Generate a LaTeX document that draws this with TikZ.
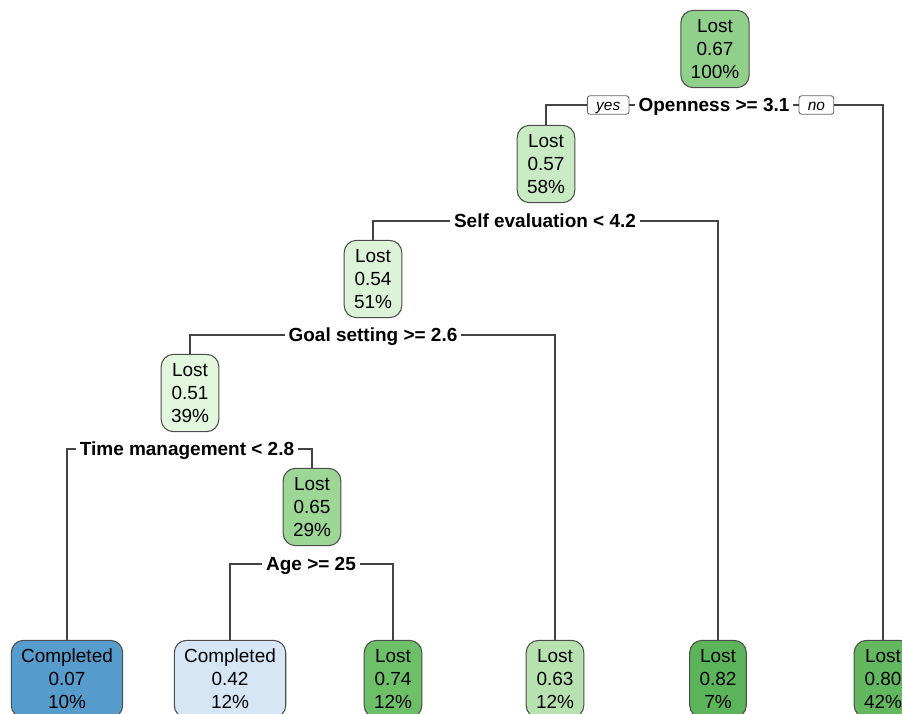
\documentclass[tikz,border=0pt]{standalone}
\usepackage{fontspec}
\setmainfont{Liberation Sans}
\usetikzlibrary{positioning}

\definecolor{gA}{RGB}{144,208,138}
\definecolor{gB}{RGB}{200,235,195}
\definecolor{gC}{RGB}{221,243,216}
\definecolor{gD}{RGB}{227,246,222}
\definecolor{gE}{RGB}{156,215,149}
\definecolor{gF}{RGB}{110,192,104}
\definecolor{gG}{RGB}{183,226,175}
\definecolor{gH}{RGB}{92,180,90}
\definecolor{gI}{RGB}{99,184,95}
\definecolor{bA}{RGB}{86,156,204}
\definecolor{bB}{RGB}{214,230,244}
\definecolor{edgegray}{RGB}{68,68,68}

\begin{document}
\begin{tikzpicture}[x=0.02cm, y=-0.02cm,
  treenode/.style={draw=black!70, line width=0.6pt, rounded corners=7pt,
    align=center, inner xsep=5.6pt, inner ysep=2pt, minimum height=44pt,
    font=\fontsize{10.8}{13}\selectfont},
  splitlabel/.style={font=\bfseries\fontsize{10.8}{13}\selectfont,
    text height=7.8pt, text depth=0pt, inner xsep=2pt, inner ysep=1pt},
  yesno/.style={draw=black!60, line width=0.5pt, fill=white, rounded corners=1.5pt,
    font=\itshape\fontsize{8.8}{10}\selectfont, inner xsep=5pt,
    text height=6.3pt, text depth=0pt, inner ysep=2pt, minimum height=10.5pt},
  branch/.style={draw=edgegray, line width=0.7pt}]
\clip (0,0) rectangle (902,713);

% Inner nodes
\node[treenode, fill=gA] (root) at (715,49) {Lost\\0.67\\100\%};
\node[treenode, fill=gB] (n2) at (546,164) {Lost\\0.57\\58\%};
\node[treenode, fill=gC] (n4) at (373,279) {Lost\\0.54\\51\%};
\node[treenode, fill=gD] (n8) at (190,393) {Lost\\0.51\\39\%};
\node[treenode, fill=gE] (n17) at (312,507) {Lost\\0.65\\29\%};

% Leaves
\node[treenode, fill=bA] (n16) at (67,679) {Completed\\0.07\\10\%};
\node[treenode, fill=bB] (n34) at (230,679) {Completed\\0.42\\12\%};
\node[treenode, fill=gF] (n35) at (393,679) {Lost\\0.74\\12\%};
\node[treenode, fill=gG] (n9) at (555,679) {Lost\\0.63\\12\%};
\node[treenode, fill=gH] (n5) at (718,679) {Lost\\0.82\\7\%};
\node[treenode, fill=gI] (n3) at (883,679) {Lost\\0.80\\42\%};

% Split labels
\node[splitlabel] (s1) at (714,105) {Openness >= 3.1};
\node[yesno, left=3pt of s1] (yes1) {yes};
\node[yesno, right=3pt of s1] (no1) {no};
\node[splitlabel] (s2) at (545,221) {Self evaluation < 4.2};
\node[splitlabel] (s4) at (373,335) {Goal setting >= 2.6};
\node[splitlabel] (s8) at (187,449) {Time management < 2.8};
\node[splitlabel] (s17) at (311,564) {Age >= 25};

% Branches
\draw[branch] (yes1.west) -| (n2.north);
\draw[branch] (yes1.east) -- (s1.west);
\draw[branch] (s1.east) -- (no1.west);
\draw[branch] (no1.east) -| (n3.north);
\draw[branch] (s2.west) -| (n4.north);
\draw[branch] (s2.east) -| (n5.north);
\draw[branch] (s4.west) -| (n8.north);
\draw[branch] (s4.east) -| (n9.north);
\draw[branch] (s8.west) -| (n16.north);
\draw[branch] (s8.east) -| (n17.north);
\draw[branch] (s17.west) -| (n34.north);
\draw[branch] (s17.east) -| (n35.north);
\end{tikzpicture}
\end{document}
